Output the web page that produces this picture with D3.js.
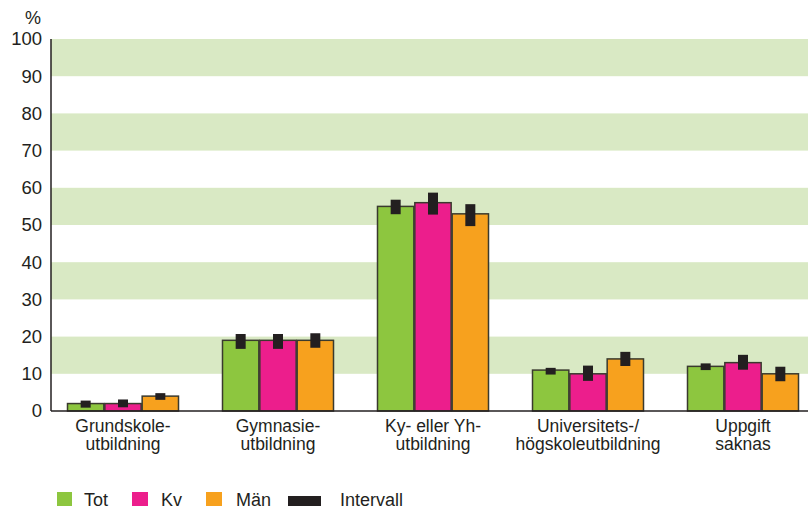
<!DOCTYPE html>
<html><head><meta charset="utf-8">
<script src="https://cdn.jsdelivr.net/npm/d3@7"></script>
<style>body{margin:0;background:#fff}svg{display:block;font-family:"Liberation Sans",Arial,sans-serif}</style>
</head><body><svg id="c" width="808" height="506"></svg>
<script>
const categories = [["Grundskole-","utbildning"],["Gymnasie-","utbildning"],["Ky- eller Yh-","utbildning"],["Universitets-/","högskoleutbildning"],["Uppgift","saknas"]];
const seriesNames = ["Tot","Kv","Män"];
const seriesColors = ["#8dc63f","#ec1e8c","#f7a11e"];
const tot = [2,19,55,11,12];
const kv = [2,19,56,10,13];
const man = [4,19,53,14,10];
const totLo = [0.9,16.7,52.9,9.8,11.0], totHi = [2.8,20.7,56.8,11.6,12.8];
const kvLo = [1.0,16.7,52.8,8.1,11.1], kvHi = [3.1,20.7,58.7,12.2,15.1];
const manLo = [3.0,17.0,49.7,12.1,8.0], manHi = [4.8,20.9,55.6,15.9,11.9];
const yTicks = [0,10,20,30,40,50,60,70,80,90,100];
const bands = [[10,20],[30,40],[50,60],[70,80],[90,100]];

const values = [tot,kv,man], lows=[totLo,kvLo,manLo], highs=[totHi,kvHi,manHi];
const svg = d3.select("#c");
const pLeft=51, pRight=808, pTop=39, pBottom=411;
const y = d3.scaleLinear().domain([0,100]).range([pBottom,pTop]);
const x0 = d3.scaleBand().domain(d3.range(5)).range([45.5,820.5]);
const x1 = d3.scaleBand().domain(d3.range(3)).range([0,112]);
const gOff = (x0.bandwidth()-112)/2;

svg.append("g").selectAll("rect").data(bands).join("rect")
  .attr("x",pLeft).attr("width",pRight-pLeft)
  .attr("y",d=>y(d[1])).attr("height",d=>y(d[0])-y(d[1]))
  .attr("fill","#d9e9c4");

const groups = svg.append("g").selectAll("g").data(d3.range(5)).join("g")
  .attr("transform",i=>`translate(${x0(i)+gOff},0)`);
groups.selectAll("rect.bar").data(i=>d3.range(3).map(s=>({s,v:values[s][i]})))
  .join("rect").attr("class","bar")
  .attr("x",d=>x1(d.s)+0.5).attr("width",x1.bandwidth()-1)
  .attr("y",d=>y(d.v)).attr("height",d=>y(0)-y(d.v))
  .attr("fill",d=>seriesColors[d.s]).attr("stroke","#3a3a2e").attr("stroke-width",1.5);
groups.selectAll("rect.iv").data(i=>d3.range(3).map(s=>({s,lo:lows[s][i],hi:highs[s][i]})))
  .join("rect").attr("class","iv")
  .attr("x",d=>x1(d.s)+x1.bandwidth()/2-5).attr("width",10)
  .attr("y",d=>y(d.hi)).attr("height",d=>y(d.lo)-y(d.hi))
  .attr("fill","#231f20");

// axes
svg.append("line").attr("x1",pLeft).attr("x2",pLeft).attr("y1",pTop).attr("y2",pBottom).attr("stroke","#231f20").attr("stroke-width",1.5);
svg.append("line").attr("x1",pLeft).attr("x2",pRight).attr("y1",pBottom).attr("y2",pBottom).attr("stroke","#231f20").attr("stroke-width",1.5);
const yAxis = d3.axisLeft(y).tickValues(yTicks).tickSize(0).tickPadding(9);
const ya = svg.append("g").attr("transform",`translate(${pLeft},0)`).call(yAxis);
ya.select(".domain").remove();
ya.selectAll("text").attr("font-size",18.5).attr("fill","#231f20").attr("font-family","Liberation Sans, Arial, sans-serif");
svg.append("text").attr("x",33).attr("y",24).attr("text-anchor","middle").attr("font-size",18).attr("fill","#231f20").text("%");

// category labels
const cl = svg.append("g").selectAll("text").data(categories).join("text")
  .attr("text-anchor","middle").attr("font-size",17.5).attr("fill","#231f20")
  .attr("x",(d,i)=>x0(i)+x0.bandwidth()/2);
cl.append("tspan").attr("y",432).text(d=>d[0]);
cl.append("tspan").attr("y",450).attr("x",(d,i)=>x0(i)+x0.bandwidth()/2).text(d=>d[1]);

// legend
const leg = [{n:"Tot",c:seriesColors[0],x:57,w:15,h:15,yy:492,tx:84},
             {n:"Kv",c:seriesColors[1],x:132,w:16,h:15,yy:492,tx:161},
             {n:"Män",c:seriesColors[2],x:206,w:16,h:15,yy:492,tx:236},
             {n:"Intervall",c:"#231f20",x:288,w:33,h:11,yy:496,tx:340}];
const lg = svg.append("g").selectAll("g").data(leg).join("g");
lg.append("rect").attr("x",d=>d.x).attr("y",d=>d.yy).attr("width",d=>d.w).attr("height",d=>d.h).attr("fill",d=>d.c);
lg.append("text").attr("x",d=>d.tx).attr("y",506).attr("font-size",18).attr("fill","#231f20").text(d=>d.n);
</script></body></html>
